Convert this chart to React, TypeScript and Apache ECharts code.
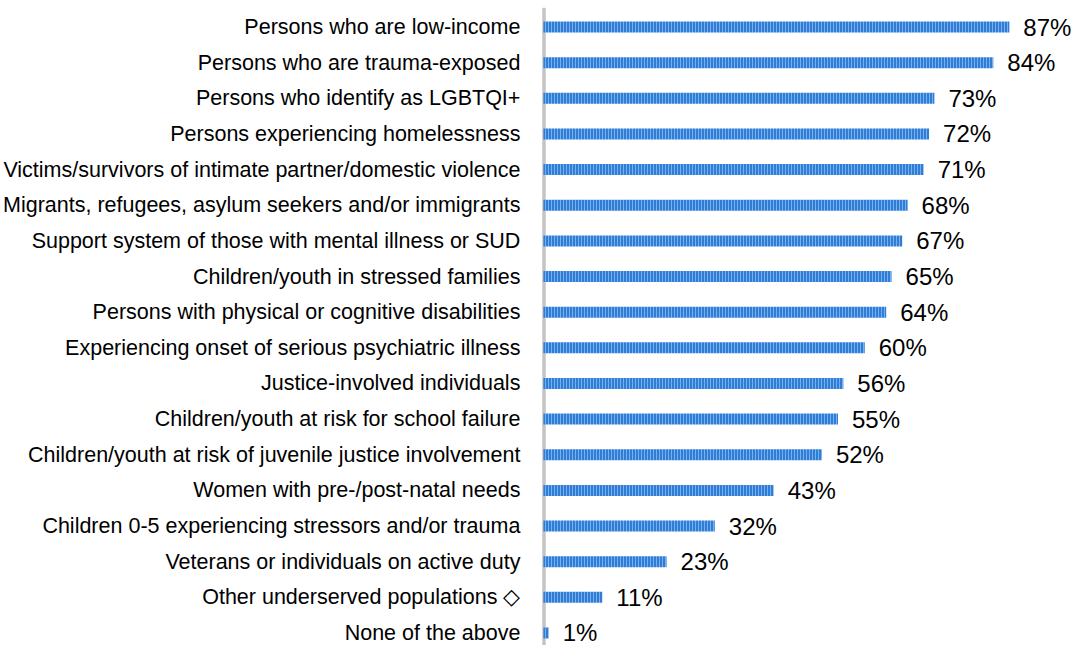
import React, { useEffect, useRef } from "react";
import * as echarts from "echarts";

const categories: string[] = [
  "Persons who are low-income",
  "Persons who are trauma-exposed",
  "Persons who identify as LGBTQI+",
  "Persons experiencing homelessness",
  "Victims/survivors of intimate partner/domestic violence",
  "Migrants, refugees, asylum seekers and/or immigrants",
  "Support system of those with mental illness or SUD",
  "Children/youth in stressed families",
  "Persons with physical or cognitive disabilities",
  "Experiencing onset of serious psychiatric illness",
  "Justice-involved individuals",
  "Children/youth at risk for school failure",
  "Children/youth at risk of juvenile justice involvement",
  "Women with pre-/post-natal needs",
  "Children 0-5 experiencing stressors and/or trauma",
  "Veterans or individuals on active duty",
  "Other underserved populations \u25C7",
  "None of the above",
];

const values: number[] = [87, 84, 73, 72, 71, 68, 67, 65, 64, 60, 56, 55, 52, 43, 32, 23, 11, 1];

function makePattern(): HTMLCanvasElement {
  const c = document.createElement("canvas");
  c.width = 3;
  c.height = 12;
  const ctx = c.getContext("2d")!;
  ctx.fillStyle = "#2e7dd7";
  ctx.fillRect(0, 0, 3, 12);
  ctx.fillStyle = "#78afec";
  ctx.fillRect(2, 0, 1, 12);
  return c;
}

export default function App() {
  const ref = useRef<HTMLDivElement>(null);
  useEffect(() => {
    if (!ref.current) return;
    const chart = echarts.init(ref.current, undefined, { renderer: "svg" });
    const pattern = makePattern();
    chart.setOption({
      animation: false,
      backgroundColor: "#ffffff",
      grid: { left: 539, top: 9.2, width: 540, height: 641.6, containLabel: false },
      xAxis: {
        type: "value",
        min: 0,
        max: 100,
        show: false,
      },
      yAxis: {
        type: "category",
        data: categories,
        inverse: true,
        offset: 2,
        axisLine: { show: true, lineStyle: { color: "#c4c4c4", width: 3.5 } },
        axisTick: { show: false },
        axisLabel: {
          margin: 21,
          color: "#000000",
          fontFamily: "Arial, 'Liberation Sans', sans-serif",
          fontSize: 21.5,
        },
      },
      series: [
        {
          type: "bar",
          data: values,
          barWidth: 11,
          itemStyle: {
            color: { image: pattern, repeat: "repeat" } as any,
          },
          label: {
            show: true,
            position: "right",
            distance: 14,
            formatter: "{c}%",
            color: "#000000",
            fontFamily: "Arial, 'Liberation Sans', sans-serif",
            fontSize: 24,
          },
        },
      ],
    });
    return () => chart.dispose();
  }, []);
  return (
    <div
      style={{
        position: "absolute",
        left: 0,
        top: 0,
        width: 1074,
        height: 645,
        overflow: "hidden",
        background: "#ffffff",
      }}
    >
      <div ref={ref} style={{ width: 1090, height: 652 }} />
    </div>
  );
}
